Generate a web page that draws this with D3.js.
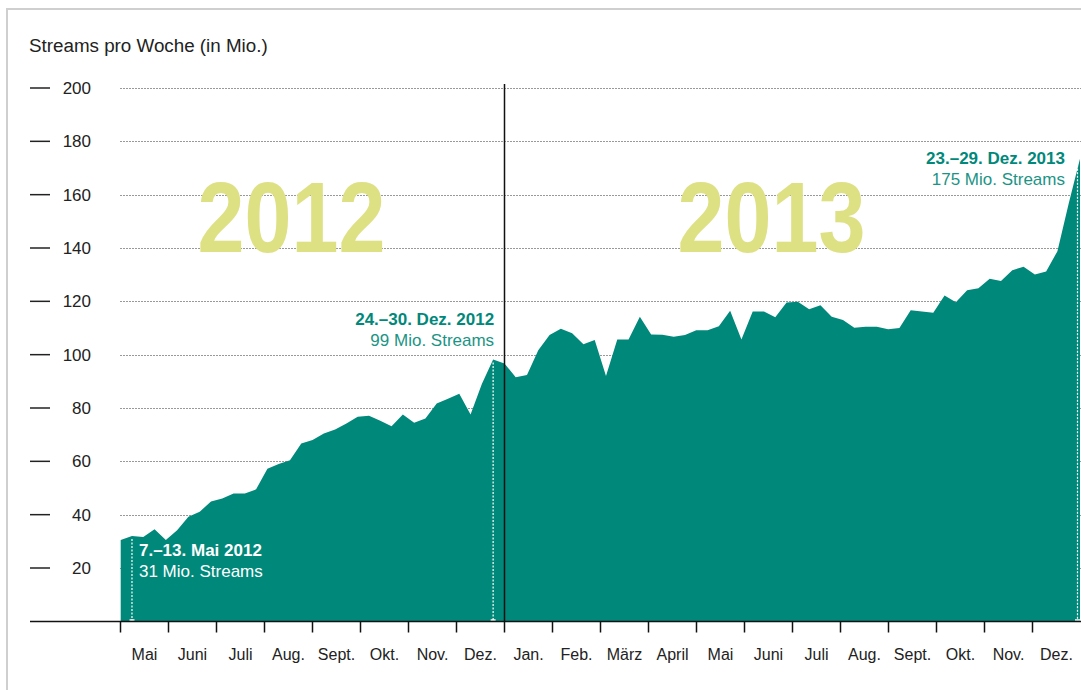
<!DOCTYPE html>
<html>
<head>
<meta charset="utf-8">
<script src="https://cdn.jsdelivr.net/npm/d3@7/dist/d3.min.js"></script>
<style>
  body { margin: 0; background: #fff; }
  svg { display: block; font-family: "Liberation Sans", Arial, sans-serif; }
</style>
</head>
<body>
<svg class="chartSVG" width="1081" height="690"></svg>
<script>
// Streams pro Woche (in Mio.), Woche für Woche
const streams2012 = [30.5, 32, 31.6, 34.5, 30.5, 34.2, 39.2, 41.1, 44.9, 46.1, 47.9, 47.9,
  49.5, 57.2, 59, 60.4, 66.7, 68, 70.4, 71.9, 74.2, 76.7, 77.1, 75.2, 73.2, 77.6, 74.5,
  76.1, 81.7, 83.5, 85.3, 77.6, 89, 98.2]
const streams2013 = [96.7, 91.5, 92.4, 101.7, 107.4, 109.7, 108, 103.9, 105.5, 92,
  105.7, 105.7, 114.2, 107.6, 107.5, 106.7, 107.4, 109.2, 109.2, 110.7,
  116.5, 105.7, 116.2, 116.2, 114, 119.6, 119.8, 117, 118.5, 114.2,
  113, 110.1, 110.5, 110.5, 109.5, 110, 116.7, 116.2, 115.7, 122.2,
  119.7, 124.2, 124.9, 128.5, 127.6, 131.7, 133, 130.1, 131.2, 138.8, 156.7, 173.5]
const months = ["Mai", "Juni", "Juli", "Aug.", "Sept.", "Okt.", "Nov.", "Dez.",
  "Jan.", "Feb.", "März", "April", "Mai", "Juni", "Juli", "Aug.", "Sept.", "Okt.", "Nov.", "Dez."]
const yTicks = [20, 40, 60, 80, 100, 120, 140, 160, 180, 200]
const years = ["2012", "2013"]
const yearStartMonth = [0, 8]
const yearEndMonth = [8, 20]
// markierte Wochen
const hlWeek = [1, 33, 85]
const hlDate = ["7.–13. Mai 2012", "24.–30. Dez. 2012", "23.–29. Dez. 2013"]
const hlText = ["31 Mio. Streams", "99 Mio. Streams", "175 Mio. Streams"]

const weekly = streams2012.concat(streams2013)

const svg = d3.select(".chartSVG")
const config = {
  left: 120.5,
  right: 1080.5,
  top: 88,
  bottom: 621.5,
}
const teal = "#00887a"

const x = d3.scaleLinear().domain([0, weekly.length - 1]).range([120.7, 1080])
const xMonth = d3.scaleLinear().domain([0, months.length]).range([config.left, config.right])
const y = d3.scaleLinear().domain([20, 200]).range([568, 88])

// rahmen
svg.append("rect")
  .attr("x", 7).attr("y", 9)
  .attr("width", 1200).attr("height", 800)
  .attr("fill", "none")
  .attr("stroke", "#cfcfcf")
  .attr("stroke-width", 2)

svg.append("text")
  .attr("x", 29).attr("y", 52)
  .attr("font-size", 18.8)
  .attr("fill", "#222")
  .text("Streams pro Woche (in Mio.)")

// gitter
svg.append("g").selectAll("line")
  .data(yTicks)
  .join("line")
  .attr("x1", config.left).attr("x2", 1081)
  .attr("y1", d => Math.round(y(d)) + 0.5).attr("y2", d => Math.round(y(d)) + 0.5)
  .attr("stroke", "#333")
  .attr("stroke-width", 1)
  .attr("stroke-dasharray", "1,2")

const yAxis = svg.append("g").attr("class", "yAxis")
yAxis.selectAll("line")
  .data(yTicks)
  .join("line")
  .attr("x1", 30).attr("x2", 50)
  .attr("y1", d => y(d)).attr("y2", d => y(d))
  .attr("stroke", "#222")
  .attr("stroke-width", 1.5)
yAxis.selectAll("text")
  .data(yTicks)
  .join("text")
  .attr("x", 91)
  .attr("y", d => y(d) + 6)
  .attr("text-anchor", "end")
  .attr("font-size", 17)
  .attr("fill", "#222")
  .text(d => d)

// jahreszahlen
svg.append("g").selectAll("text")
  .data(years)
  .join("text")
  .attr("x", (d, i) => (xMonth(yearStartMonth[i]) + xMonth(yearEndMonth[i])) / 2 - 21)
  .attr("y", 252)
  .attr("text-anchor", "middle")
  .attr("font-size", 100)
  .attr("font-weight", "bold")
  .attr("textLength", 188)
  .attr("lengthAdjust", "spacingAndGlyphs")
  .attr("fill", "#dde184")
  .text(d => d)

const area = d3.area()
  .x((d, i) => x(i))
  .y0(y(0))
  .y1(d => y(d))

svg.append("path")
  .datum(weekly)
  .attr("d", area)
  .attr("fill", teal)

// trennlinie zwischen den jahren
svg.append("line")
  .attr("x1", xMonth(8)).attr("x2", xMonth(8))
  .attr("y1", 84).attr("y2", config.bottom)
  .attr("stroke", "#111")
  .attr("stroke-width", 1.5)

// markierungen
const hl = svg.append("g").selectAll("g")
  .data(hlWeek)
  .join("g")

hl.append("line")
  .attr("x1", (d, i) => i == 2 ? x(d) - 2.5 : x(d))
  .attr("x2", (d, i) => i == 2 ? x(d) - 2.5 : x(d))
  .attr("y1", d => y(weekly[d]) + 3)
  .attr("y2", config.bottom - 1)
  .attr("stroke", "#fff")
  .attr("stroke-width", 1.2)
  .attr("stroke-dasharray", "2,1.5")
hl.append("line")
  .attr("x1", (d, i) => (i == 2 ? x(d) - 2.5 : x(d)) - 2.5)
  .attr("x2", (d, i) => (i == 2 ? x(d) - 2.5 : x(d)) + 2.5)
  .attr("y1", config.bottom - 1.5)
  .attr("y2", config.bottom - 1.5)
  .attr("stroke", "#fff")
  .attr("stroke-width", 1.5)

// texte: erster in weiss innen, die anderen links oben
const hlX = (d, i) => i == 0 ? x(d) + 7 : (i == 1 ? x(d) + 1 : x(d) - 15)
const hlY = (d, i) => i == 0 ? y(weekly[d]) + 20 : (i == 1 ? y(weekly[d]) - 34 : y(weekly[d]) + 5)
hl.append("text")
  .attr("x", hlX)
  .attr("y", hlY)
  .attr("text-anchor", (d, i) => i == 0 ? "start" : "end")
  .attr("font-size", 17)
  .attr("font-weight", "bold")
  .attr("fill", (d, i) => i == 0 ? "#fff" : teal)
  .text((d, i) => hlDate[i])
hl.append("text")
  .attr("x", hlX)
  .attr("y", (d, i) => hlY(d, i) + 21)
  .attr("text-anchor", (d, i) => i == 0 ? "start" : "end")
  .attr("font-size", 17)
  .attr("fill", (d, i) => i == 0 ? "#fff" : "#1b9485")
  .text((d, i) => hlText[i])

// x-achse
svg.append("line")
  .attr("x1", 30).attr("x2", 1081)
  .attr("y1", config.bottom).attr("y2", config.bottom)
  .attr("stroke", "#111")
  .attr("stroke-width", 1.5)

const xAxis = svg.append("g").attr("class", "xAxis")
xAxis.selectAll("line")
  .data(months)
  .join("line")
  .attr("x1", (d, i) => xMonth(i)).attr("x2", (d, i) => xMonth(i))
  .attr("y1", config.bottom).attr("y2", config.bottom + 11)
  .attr("stroke", "#111")
  .attr("stroke-width", 1.5)
xAxis.selectAll("text")
  .data(months)
  .join("text")
  .attr("x", (d, i) => xMonth(i + 0.5))
  .attr("y", 660)
  .attr("text-anchor", "middle")
  .attr("font-size", 16)
  .attr("fill", "#222")
  .text(d => d)
</script>
</body>
</html>
